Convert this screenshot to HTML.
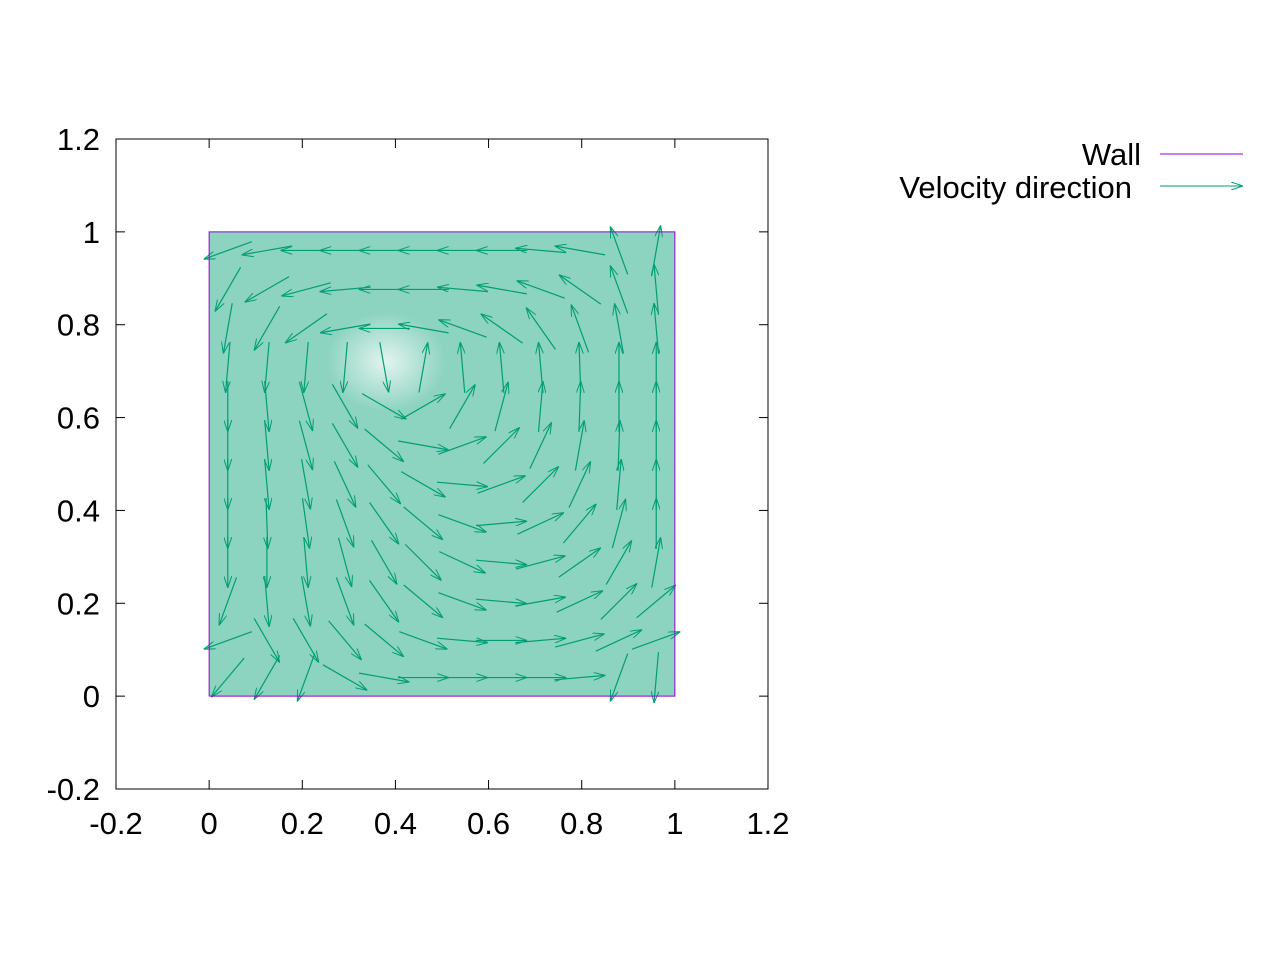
<!DOCTYPE html>
<html><head><meta charset="utf-8">
<style>
html,body{margin:0;padding:0;background:#fff;}
svg{display:block;font-family:"Liberation Sans",Arial,sans-serif;}
</style></head>
<body>
<svg id="chart" width="1280" height="960" viewBox="0 0 1280 960">
<defs>
<marker id="ah" viewBox="0 0 12 8" refX="12" refY="4" markerWidth="12" markerHeight="8" markerUnits="userSpaceOnUse" orient="auto">
<path d="M0,0 L12,4 L0,8" fill="none" stroke="#009e73" stroke-width="1"/>
</marker>
<radialGradient id="hole">
<stop offset="0" stop-color="#fff" stop-opacity="0.75"/>
<stop offset="1" stop-color="#fff" stop-opacity="0"/>
</radialGradient>
</defs>
<g id="plot"></g>
</svg>
<script>
const xTicks=[-0.2,0,0.2,0.4,0.6,0.8,1,1.2];
const yTicks=[-0.2,0,0.2,0.4,0.6,0.8,1,1.2];
const xTickLabels=["-0.2","0","0.2","0.4","0.6","0.8","1","1.2"];
const yTickLabels=["-0.2","0","0.2","0.4","0.6","0.8","1","1.2"];
const gridX=[0.04,0.124,0.208,0.292,0.376,0.46,0.544,0.628,0.712,0.796,0.88,0.96];
const gridY=[0.96,0.876,0.792,0.708,0.624,0.54,0.456,0.372,0.288,0.204,0.12,0.04];
const angleDeg=[
[200,190,180,180,180,180,180,180,175,170,110,80],
[240,210,195,185,180,180,175,170,160,145,110,95],
[260,240,215,190,180,170,160,145,125,110,100,95],
[265,265,265,265,280,80,95,95,95,92,90,90],
[270,275,285,300,330,30,60,75,85,88,90,90],
[270,275,285,300,320,350,20,45,65,80,88,90],
[270,275,280,295,310,330,355,20,45,65,85,90],
[270,272,278,290,305,320,340,5,25,50,75,90],
[270,270,275,285,300,315,335,355,15,35,60,80],
[250,275,280,290,305,320,340,355,10,25,45,40],
[200,300,300,310,320,340,355,0,5,15,25,20],
[230,240,250,330,350,0,0,0,0,5,250,265]
];
const arrowLen=0.11;
const wallX=[0,1,1,0,0];
const wallY=[0,0,1,1,0];

const X0=116,X1=768,Y0=789,Y1=139,xmin=-0.2,xmax=1.2,ymin=-0.2,ymax=1.2;
const sx=v=>X0+(v-xmin)/(xmax-xmin)*(X1-X0);
const sy=v=>Y0-(v-ymin)/(ymax-ymin)*(Y0-Y1);
const NS="http://www.w3.org/2000/svg";
const g=document.getElementById('plot');
function mk(t,a){const e=document.createElementNS(NS,t);for(const k in a)e.setAttribute(k,a[k]);g.appendChild(e);return e;}

const bg=mk('rect',{x:sx(0),y:sy(1),width:sx(1)-sx(0),height:sy(0)-sy(1),fill:'rgba(0,158,115,0.45)'});


const hole=mk('ellipse',{cx:sx(0.38),cy:sy(0.72),rx:60,ry:50,fill:'url(#hole)'});



const fr=mk('rect',{x:X0,y:Y1,width:X1-X0,height:Y0-Y1,fill:'none',stroke:'#000','stroke-width':1});



xTicks.forEach((t,i)=>{
  const x=sx(t);
  const l1=mk('line',{x1:x,y1:Y0,x2:x,y2:Y0-9,stroke:'#000'});
  
  
  const l2=mk('line',{x1:x,y1:Y1,x2:x,y2:Y1+9,stroke:'#000'});
  
  
  const tx=mk('text',{x:x,y:Y0+45,'text-anchor':'middle','font-size':31,fill:'#000'});
  tx.textContent=xTickLabels[i];
  
  
});
yTicks.forEach((t,i)=>{
  const y=sy(t);
  const l1=mk('line',{x1:X0,y1:y,x2:X0+9,y2:y,stroke:'#000'});
  
  
  const l2=mk('line',{x1:X1,y1:y,x2:X1-9,y2:y,stroke:'#000'});
  
  
  const tx=mk('text',{x:X0-16,y:y+11,'text-anchor':'end','font-size':31,fill:'#000'});
  tx.textContent=yTickLabels[i];
  
  
});

gridY.forEach((yv,r)=>{
  gridX.forEach((xv,c)=>{
    const a=angleDeg[r][c]*Math.PI/180;
    const x1=xv-Math.cos(a)*arrowLen/2, y1=yv-Math.sin(a)*arrowLen/2;
    const x2=xv+Math.cos(a)*arrowLen/2, y2=yv+Math.sin(a)*arrowLen/2;
    const ln=mk('line',{x1:sx(x1),y1:sy(y1),x2:sx(x2),y2:sy(y2),stroke:'#009e73','stroke-width':1.2,'marker-end':'url(#ah)'});
    
    
  });
});

const wp=wallX.map((x,i)=>sx(x)+','+sy(wallY[i])).join(' ');
const wall=mk('polyline',{points:wp,fill:'none',stroke:'#9400d3','stroke-width':1});



const t1=mk('text',{x:1141,y:165,'text-anchor':'end','font-size':31,fill:'#000'});
t1.textContent='Wall';


const l1=mk('line',{x1:1160,y1:154,x2:1243,y2:154,stroke:'#9400d3'});


const t2=mk('text',{x:1132,y:198,'text-anchor':'end','font-size':31,fill:'#000'});
t2.textContent='Velocity direction';


const l2=mk('line',{x1:1160,y1:186,x2:1243,y2:186,stroke:'#009e73','marker-end':'url(#ah)'});


</script>
</body></html>
